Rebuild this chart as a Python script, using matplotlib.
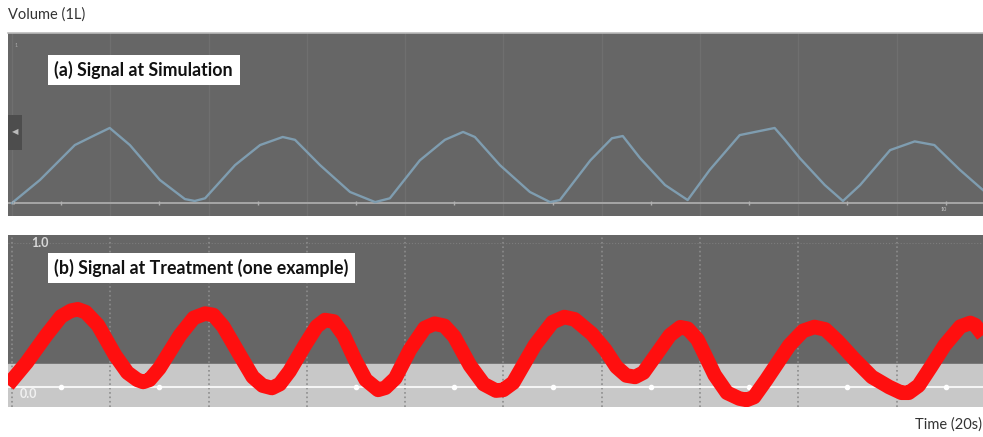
import matplotlib.pyplot as plt
import matplotlib.patches as patches

plt.rcParams['font.family'] = ['Lato', 'DejaVu Sans']

# (a) simulated breathing signal, time in s, volume in L
sim_t = [0.00, 0.57, 1.28, 1.69, 1.99, 2.40, 3.01, 3.52, 3.72, 3.93, 4.54, 5.05,
         5.51, 5.76, 6.27, 6.88, 7.39, 7.69, 8.30, 8.81, 9.18, 9.42, 9.93, 10.54,
         10.95, 11.15, 11.77, 12.21, 12.43, 12.78, 13.29, 13.75, 14.20, 14.81,
         15.22, 15.52, 15.73, 16.03, 16.54, 16.91, 17.26, 17.87, 18.37, 18.77,
         19.29, 19.76]
sim_v = [0.00, 0.146, 0.367, 0.43, 0.475, 0.367, 0.146, 0.025, 0.013, 0.03, 0.24,
         0.367, 0.418, 0.40, 0.24, 0.07, 0.006, 0.03, 0.27, 0.40, 0.45, 0.418,
         0.24, 0.07, 0.006, 0.019, 0.27, 0.41, 0.424, 0.285, 0.114, 0.019, 0.21,
         0.43, 0.456, 0.475, 0.40, 0.285, 0.114, 0.013, 0.114, 0.335, 0.39,
         0.367, 0.21, 0.082]

# (b) treatment signal (one example)
trt_t = [-0.08, 0.30, 0.70, 1.00, 1.20, 1.34, 1.50, 1.75, 2.10, 2.35, 2.55, 2.67,
         2.80, 3.00, 3.42, 3.70, 3.93, 4.10, 4.30, 4.64, 4.90, 5.10, 5.29, 5.45,
         5.65, 5.96, 6.20, 6.37, 6.55, 6.75, 6.98, 7.20, 7.45, 7.60, 7.80, 8.10,
         8.40, 8.60, 8.80, 9.00, 9.32, 9.60, 9.85, 10.00, 10.20, 10.64, 11.00,
         11.24, 11.45, 11.80, 12.07, 12.30, 12.50, 12.68, 12.85, 13.10, 13.39,
         13.60, 13.75, 13.95, 14.30, 14.55, 14.80, 14.95, 15.10, 15.35, 15.82,
         16.10, 16.33, 16.55, 16.80, 17.15, 17.50, 17.85, 18.10, 18.25, 18.45,
         18.70, 18.98, 19.30, 19.50, 19.60, 19.76]
trt_v = [0.014, 0.17, 0.36, 0.49, 0.53, 0.54, 0.52, 0.43, 0.22, 0.10, 0.05, 0.035,
         0.05, 0.13, 0.36, 0.48, 0.51, 0.50, 0.42, 0.22, 0.07, 0.01, -0.007, 0.02,
         0.11, 0.29, 0.42, 0.465, 0.455, 0.36, 0.19, 0.05, -0.02, -0.005, 0.06,
         0.26, 0.41, 0.44, 0.425, 0.35, 0.15, 0.02, -0.025, -0.02, 0.03, 0.29,
         0.45, 0.486, 0.47, 0.37, 0.26, 0.14, 0.08, 0.07, 0.10, 0.22, 0.36,
         0.415, 0.405, 0.33, 0.083, -0.04, -0.08, -0.09, -0.07, 0.05, 0.29,
         0.39, 0.417, 0.40, 0.32, 0.19, 0.07, 0.0, -0.04, -0.04, 0.01,
         0.14, 0.29, 0.42, 0.445, 0.43, 0.36]

grid_t = [0, 2, 4, 6, 8, 10, 12, 14, 16, 18]
dot_t = [1, 3, 5, 7, 9, 11, 13, 15, 17, 19]

W, H = 983, 437


def px(x, y):
    return x / W, 1 - y / H


def bare(ax):
    ax.set_xticks([])
    ax.set_yticks([])
    for s in ax.spines.values():
        s.set_visible(False)


fig = plt.figure(figsize=(W / 100, H / 100), dpi=100)
fig.patch.set_facecolor('white')

# ---- top panel ----
ax1 = fig.add_axes([8 / W, 1 - 216 / H, 975 / W, 183 / H])
ax1.set_facecolor('#666666')
for t in grid_t:
    ax1.axvline(t, color='#6f6f6f', lw=1.0, zorder=1)
ax1.axhline(0, color='#a6a6a6', lw=1.4, zorder=2)
ax1.plot(dot_t, [0] * len(dot_t), ls='none', marker='|', ms=3, color='#b0b0b0', zorder=2)
ax1.plot(sim_t, sim_v, color='#7f9db0', lw=1.7, zorder=3)
ax1.set_xlim(-0.08, 19.76)
ax1.set_ylim(-0.082, 1.076)
bare(ax1)
ax1.text(0.05, 1.0, '1', fontsize=4, color='#aaaaaa', va='center')
ax1.text(0.0, 0.0, '0', fontsize=4, color='#bbbbbb', va='center')
ax1.text(18.9, -0.04, '10', fontsize=4, color='#cccccc', va='center')
fig.add_artist(plt.Line2D([8 / W, 1], [1 - 33 / H] * 2, color='#bbbbbb', lw=1.2))

# collapse tab on the left
tab = patches.Rectangle(px(8, 150), 14 / W, 35 / H, transform=fig.transFigure,
                        facecolor='#4d4d4d', edgecolor='none')
fig.add_artist(tab)
fig.text(*px(15, 132), '◀', fontsize=6, color='#bbbbbb', ha='center', va='center',
         family=['DejaVu Sans'])

# ---- bottom panel ----
ax2 = fig.add_axes([8 / W, 1 - 407 / H, 975 / W, 172 / H])
ax2.set_facecolor('#666666')
ax2.axhspan(-0.2, 0.16, color='#c8c8c8', zorder=0)
ax2.axhline(1.0, color='#7c7c7c', lw=0.8, ls=':', zorder=1)
for t in grid_t:
    ax2.axvline(t, color='#8c8c8c', lw=1.2, ls=':', zorder=1)
ax2.axhline(0, color='#f4f4f4', lw=1.5, zorder=2)
ax2.plot(dot_t, [0] * len(dot_t), ls='none', marker='o', ms=3, color='white', zorder=2)
ax2.plot(trt_t, trt_v, color='#ff0f0f', lw=10.5, solid_joinstyle='round',
         solid_capstyle='butt', zorder=3)
ax2.set_xlim(-0.08, 19.76)
ax2.set_ylim(-0.139, 1.056)
bare(ax2)
ax2.text(0.4, 1.0, '1.0', fontsize=9, fontweight='bold', color='#d8d8d8', va='center')
ax2.text(0.15, -0.05, '0.0', fontsize=9, fontweight='bold', color='#f0f0f0', va='center')

# ---- label boxes ----
for (x0, y0, x1, y1, label) in [(48, 55, 240, 85, '(a) Signal at Simulation'),
                                 (48, 253, 355, 283, '(b) Signal at Treatment (one example)')]:
    box = patches.Rectangle(px(x0, y1), (x1 - x0) / W, (y1 - y0) / H,
                            transform=fig.transFigure, facecolor='white', edgecolor='none', zorder=5)
    fig.add_artist(box)
    fig.text(*px(x0 + 6, (y0 + y1) / 2), label, fontsize=12.8, fontweight='bold',
             color='#111111', va='center', ha='left', zorder=6)

fig.text(*px(8, 15), 'Volume (1L)', fontsize=10.5, color='#333333', va='center', ha='left')
fig.text(*px(982, 425), 'Time (20s)', fontsize=10.5, color='#333333', va='center', ha='right')

fig.savefig('out.png', dpi=100, facecolor='white')
